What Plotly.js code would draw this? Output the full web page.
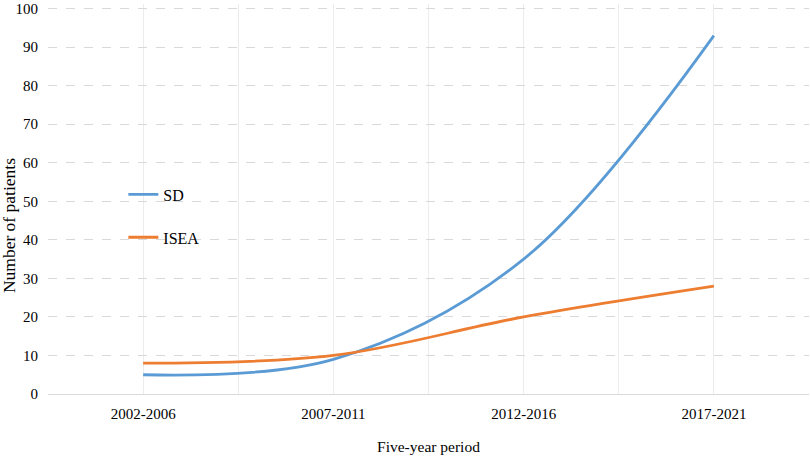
<!DOCTYPE html>
<html>
<head>
<meta charset="utf-8">
<script src="https://cdn.plot.ly/plotly-3.0.1.min.js"></script>
<style>
  html, body { margin: 0; padding: 0; background: #fff; }
  #chart { width: 810px; height: 456px; }
</style>
</head>
<body>
<div id="chart"></div>
<script>
// values
const periods = ['2002-2006', '2007-2011', '2012-2016', '2017-2021'];
const sdValues = [5, 9, 35, 93];
const iseaValues = [8, 10, 20, 28];
const yTicks = [0, 10, 20, 30, 40, 50, 60, 70, 80, 90, 100];

const idx = periods.map((p, i) => i);
const font = '"Liberation Serif", "Times New Roman", serif';

const sd = {
  x: idx, y: sdValues, name: 'SD', legendgroup: 'a',
  mode: 'lines', line: {color: '#5B9BD5', width: 2.8, shape: 'spline', smoothing: 1}
};
const isea = {
  x: idx, y: iseaValues, name: 'ISEA', legendgroup: 'b',
  mode: 'lines', line: {color: '#ED7D31', width: 2.8, shape: 'spline', smoothing: 1}
};

const layout = {
  width: 810, height: 456,
  margin: {l: 48, r: 1, t: 4, b: 62},
  paper_bgcolor: '#fff', plot_bgcolor: '#fff',
  font: {family: font, size: 15, color: '#000'},
  showlegend: true,
  legend: {
    x: 0.099, y: 0.555, xanchor: 'left', yanchor: 'top',
    bgcolor: 'rgba(0,0,0,0)', tracegroupgap: 19,
    font: {family: font, size: 16}, itemwidth: 30
  },
  xaxis: {
    range: [-0.5, 3.5], tickvals: idx, ticktext: periods,
    showgrid: true, gridcolor: '#ececec', gridwidth: 1,
    minor: {dtick: 0.5, tick0: 0.5, showgrid: true, gridcolor: '#ececec', ticks: ''},
    showline: true, linecolor: '#d9d9d9', linewidth: 1,
    zeroline: false, ticks: 'outside', ticklen: 6, tickcolor: 'rgba(0,0,0,0)',
    tickfont: {family: font, size: 15},
    title: {text: 'Five-year period', standoff: 20, font: {family: font, size: 15.5}}
  },
  yaxis: {
    range: [0, 101.2], tickvals: yTicks,
    showgrid: true, gridcolor: '#d9d9d9', griddash: 'dash', gridwidth: 1,
    zeroline: false, showline: false,
    ticks: 'outside', ticklen: 6, tickcolor: 'rgba(0,0,0,0)',
    tickfont: {family: font, size: 15}
  },
  // y title sits lower than the plot centre in the original, so place it by hand
  annotations: [{
    text: 'Number of patients', textangle: -90,
    xref: 'paper', yref: 'paper', x: -0.051, y: 0.431,
    xanchor: 'center', yanchor: 'middle', showarrow: false,
    font: {family: font, size: 17.5}
  }]
};

Plotly.newPlot('chart', [sd, isea], layout, {displayModeBar: false, staticPlot: true});
</script>
</body>
</html>
